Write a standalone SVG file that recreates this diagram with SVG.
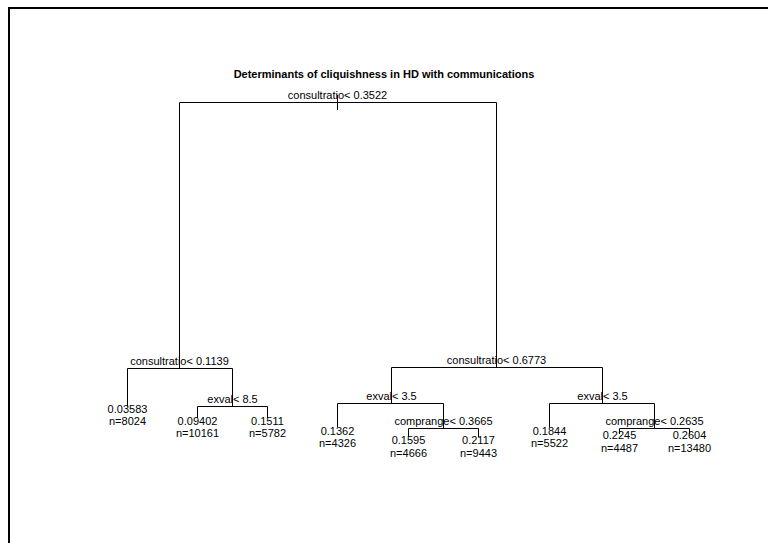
<svg xmlns="http://www.w3.org/2000/svg" width="768" height="543" viewBox="0 0 768 543">
  <style>
    text { font-family: "Liberation Sans", Arial, sans-serif; font-size: 11px; fill: #000; text-anchor: middle; }
    .title { font-weight: bold; }
    .branch { fill: none; stroke: #000; stroke-width: 1; }
    .frame { fill: none; stroke: #000; stroke-width: 2; }
  </style>
  <rect width="768" height="543" fill="#fff"/>
  <!-- page frame (top and left edges) -->
  <path class="frame" d="M9,543 V8 H768"/>
  <text class="title" x="384" y="78">Determinants of cliquishness in HD with communications</text>

  <!-- tree branches -->
  <g id="connectors">
    <path class="branch" d="M337.5,95 V110"/>
    <path class="branch" d="M179.5,368.5 V102.5 H496.5 V367.5"/>
    <path class="branch" d="M127.5,406.5 V368.5 H232.5 V406.5"/>
    <path class="branch" d="M197.5,418 V406.5 H267.5 V418"/>
    <path class="branch" d="M391.5,403.5 V367.5 H602.5 V403.5"/>
    <path class="branch" d="M337.5,427.5 V403.5 H443.5 V428.5"/>
    <path class="branch" d="M408.5,437 V428.5 H478.5 V437"/>
    <path class="branch" d="M549.5,427.5 V403.5 H654.5 V428.5"/>
    <path class="branch" d="M619.5,434 V428.5 H689.5 V434"/>
  </g>

  <!-- split nodes -->
  <g id="node-root"><text x="337.5" y="99">consultratio&lt; 0.3522</text></g>
  <g id="node-consult-01139"><text x="179.5" y="365">consultratio&lt; 0.1139</text></g>
  <g id="node-exval-85"><text x="232.5" y="402.5">exval&lt; 8.5</text></g>
  <g id="node-consult-06773"><text x="496.5" y="364">consultratio&lt; 0.6773</text></g>
  <g id="node-exval-35-a"><text x="391.5" y="399.5">exval&lt; 3.5</text></g>
  <g id="node-comprange-03665"><text x="443.5" y="424.5">comprange&lt; 0.3665</text></g>
  <g id="node-exval-35-b"><text x="602.5" y="399.5">exval&lt; 3.5</text></g>
  <g id="node-comprange-02635"><text x="654.5" y="424.5">comprange&lt; 0.2635</text></g>

  <!-- leaves -->
  <g id="leaf-1"><text x="127.5" y="413">0.03583</text><text x="127.5" y="425">n=8024</text></g>
  <g id="leaf-2"><text x="197.5" y="425">0.09402</text><text x="197.5" y="437">n=10161</text></g>
  <g id="leaf-3"><text x="267.5" y="425">0.1511</text><text x="267.5" y="437">n=5782</text></g>
  <g id="leaf-4"><text x="337.5" y="434.5">0.1362</text><text x="337.5" y="447">n=4326</text></g>
  <g id="leaf-5"><text x="408.5" y="444">0.1595</text><text x="408.5" y="456.5">n=4666</text></g>
  <g id="leaf-6"><text x="478.5" y="444">0.2117</text><text x="478.5" y="456.5">n=9443</text></g>
  <g id="leaf-7"><text x="549.5" y="434.5">0.1844</text><text x="549.5" y="447">n=5522</text></g>
  <g id="leaf-8"><text x="619.5" y="439">0.2245</text><text x="619.5" y="452">n=4487</text></g>
  <g id="leaf-9"><text x="689.5" y="439">0.2604</text><text x="689.5" y="452">n=13480</text></g>
</svg>
